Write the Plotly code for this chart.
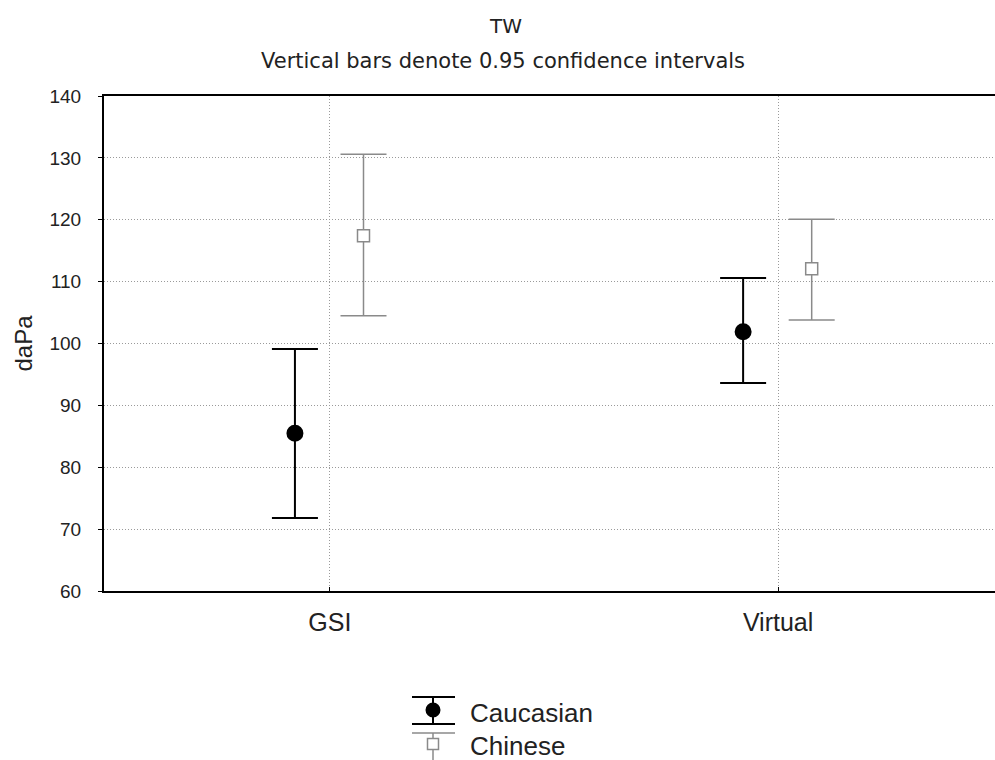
import plotly.graph_objects as go

categories = ["GSI", "Virtual"]
groups = ["Caucasian", "Chinese"]
means = {"Caucasian": [85.5, 101.9], "Chinese": [117.4, 112.1]}
upper = {"Caucasian": [99.1, 110.6], "Chinese": [130.6, 120.1]}
lower = {"Caucasian": [71.8, 93.6], "Chinese": [104.5, 103.8]}
y_ticks = [60, 70, 80, 90, 100, 110, 120, 130, 140]
title_text = "TW"
subtitle_text = "Vertical bars denote 0.95 confidence intervals"
y_title = "daPa"

offsets = {"Caucasian": -0.078, "Chinese": 0.075}
styles = {
    "Caucasian": dict(color="#000000", symbol="circle", fill="#000000", lw=2, size=15),
    "Chinese": dict(color="#8a8a8a", symbol="square", fill="#ffffff", lw=1.5, size=12),
}

W, H = 995, 760
ML, MR, MT, MB = 104, 0, 96, 169
PW, PH = W - ML - MR, H - MT - MB


def px(x):
    return (x - ML) / PW


def py(y):
    return (H - MB - y) / PH


fig = go.Figure()
for g in groups:
    s = styles[g]
    xs = [i + offsets[g] for i in range(len(categories))]
    ys = means[g]
    fig.add_trace(go.Scatter(
        x=xs, y=ys, mode="markers", name=g, showlegend=False,
        marker=dict(symbol=s["symbol"], size=s["size"], color=s["fill"],
                    line=dict(color=s["color"], width=s["lw"])),
        error_y=dict(type="data", symmetric=False,
                     array=[u - m for u, m in zip(upper[g], ys)],
                     arrayminus=[m - l for m, l in zip(ys, lower[g])],
                     color=s["color"], thickness=s["lw"], width=23),
    ))

# custom legend (error-bar style symbols)
shapes = []
annotations = []
legend_rows = [("Caucasian", 697, 724, 710, 713), ("Chinese", 733, 762, 744, 746)]
for g, ytop, ybot, ymark, ytext in legend_rows:
    s = styles[g]
    cx = 433
    for yc in (ytop, ybot):
        shapes.append(dict(type="line", xref="paper", yref="paper",
                           x0=px(412), x1=px(455), y0=py(yc), y1=py(yc),
                           line=dict(color=s["color"], width=s["lw"])))
    shapes.append(dict(type="line", xref="paper", yref="paper",
                       x0=px(cx), x1=px(cx), y0=py(ytop), y1=py(ybot),
                       line=dict(color=s["color"], width=s["lw"])))
    r = 6.5 if g == "Caucasian" else 5.5
    shapes.append(dict(type="circle" if s["symbol"] == "circle" else "rect",
                       xref="paper", yref="paper",
                       x0=px(cx - r), x1=px(cx + r), y0=py(ymark - r), y1=py(ymark + r),
                       fillcolor=s["fill"], line=dict(color=s["color"], width=s["lw"])))
    annotations.append(dict(text=g, x=px(468), y=py(ytext), xref="paper", yref="paper",
                            xanchor="left", yanchor="middle", showarrow=False,
                            font=dict(size=26, color="#222222")))

annotations.append(dict(text=title_text, x=px(505), y=py(26), xref="paper", yref="paper",
                        xanchor="center", yanchor="middle", showarrow=False,
                        font=dict(family="DejaVu Sans", size=20, color="#222222")))
annotations.append(dict(text=subtitle_text, x=px(503), y=py(61), xref="paper", yref="paper",
                        xanchor="center", yanchor="middle", showarrow=False,
                        font=dict(family="DejaVu Sans", size=21, color="#222222")))

fig.update_layout(
    width=W, height=H,
    paper_bgcolor="white", plot_bgcolor="white",
    margin=dict(l=ML, r=MR, t=MT, b=MB),
    font=dict(family="Liberation Sans, Arial, sans-serif", color="#222222"),
    showlegend=False,
    shapes=shapes,
    annotations=annotations,
)

grid_dash = "1px,2px"
fig.update_xaxes(
    range=[-0.504, 1.484], tickmode="array", tickvals=list(range(len(categories))),
    ticktext=categories, showgrid=True, gridcolor="#9a9a9a", griddash=grid_dash, gridwidth=1,
    showline=True, linecolor="#000000", linewidth=2, mirror=True,
    ticks="inside", ticklen=4, tickcolor="#000000", zeroline=False,
    tickfont=dict(size=25, color="#222222"), ticklabelstandoff=8,
)
fig.update_yaxes(
    range=[60, 140], tickmode="array", tickvals=y_ticks,
    showgrid=True, gridcolor="#9a9a9a", griddash=grid_dash, gridwidth=1,
    showline=True, linecolor="#000000", linewidth=2, mirror=False,
    ticks="outside", ticklen=4, tickcolor="#000000", zeroline=False,
    tickfont=dict(size=19, color="#222222"), ticklabelstandoff=13,
    title=dict(text=y_title, font=dict(size=24, color="#222222"), standoff=10),
)

fig.write_html("out.html")
